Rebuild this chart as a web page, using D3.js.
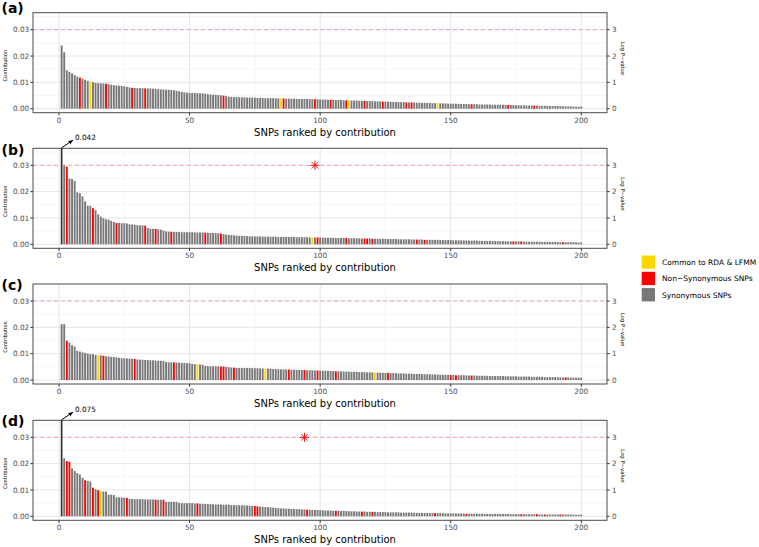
<!DOCTYPE html>
<html>
<head>
<meta charset="utf-8">
<script src="https://cdn.jsdelivr.net/npm/d3@7"></script>
<style>
body { margin: 0; background: #fff; }
svg text { font-family: "DejaVu Sans", sans-serif; }
</style>
</head>
<body>
<svg id="chart" width="759" height="547"></svg>
<script>
// contributions in units of 1e-4, rank 1..200
const contribA = [
  240,214,146,140,134,128,122,118,114,110, 106,103,101,98,97,97,96,95,93,91,
  89,88,87,86,85,83,81,79,79,78, 78,78,77,77,77,76,75,74,73,73,
  72,72,71,70,68,66,64,62,61,60, 60,59,59,58,58,57,55,54,53,53,
  52,51,50,48,46,45,44,44,43,43, 43,42,42,42,42,41,41,41,40,40,
  40,40,39,39,39,39,38,38,38,38, 37,37,37,37,37,36,36,36,36,35,
  35,35,34,34,34,33,33,33,32,32, 32,31,31,31,30,30,30,29,29,29,
  28,28,28,27,27,27,26,26,26,25, 25,25,24,24,24,23,23,23,22,22,
  22,22,21,21,21,20,20,20,19,19, 19,19,18,18,18,18,17,17,17,17,
  16,16,16,16,16,15,15,15,15,15, 14,14,14,14,13,13,13,13,12,12,
  12,12,12,11,11,11,11,10,10,10, 10,10,9,9,9,9,8,8,8,8
];
const contribB = [
  420,302,295,249,248,241,197,194,182,163, 147,146,137,130,114,105,99,95,94,89,
  85,81,81,80,80,79,76,75,74,73, 72,72,71,62,60,59,58,57,56,52,
  49,48,48,47,47,47,46,46,46,46, 46,45,45,45,45,44,44,43,43,42,
  42,41,39,37,36,35,34,33,32,32, 31,31,31,30,30,30,30,29,29,29,
  29,29,29,28,28,28,28,28,28,28, 27,27,27,27,27,26,26,26,26,26,
  25,25,25,25,25,24,24,24,24,24, 23,23,23,23,22,22,22,22,22,21,
  21,21,21,21,20,20,20,20,20,19, 19,19,19,19,18,18,18,18,18,17,
  17,17,17,17,17,16,16,16,16,16, 15,15,15,15,15,14,14,14,14,14,
  13,13,13,13,13,12,12,12,12,12, 12,11,11,11,11,11,11,10,10,10,
  10,10,10,10,9,9,9,9,9,9, 9,8,8,8,8,8,8,8,7,7
];
const contribC = [
  212,212,149,142,132,127,111,108,105,103, 100,98,98,95,94,94,92,90,89,88,
  87,86,84,83,82,82,81,81,80,78, 77,77,76,76,75,75,74,73,73,72,
  68,67,67,67,66,66,65,65,64,64, 61,60,60,59,58,53,53,52,52,52,
  52,51,51,50,49,47,47,46,46,46, 46,46,46,45,45,45,44,44,43,43,
  43,42,42,41,41,40,40,40,39,39, 39,38,38,38,37,37,37,36,36,36,
  35,35,35,34,34,33,33,33,32,32, 32,31,31,31,30,30,30,29,29,29,
  28,28,28,27,27,27,26,26,26,25, 25,25,24,24,24,23,23,23,22,22,
  22,22,21,21,21,20,20,20,19,19, 19,18,18,18,18,17,17,17,17,16,
  16,16,16,16,15,15,15,15,15,15, 14,14,14,14,14,13,13,13,13,13,
  12,12,12,12,12,11,11,11,11,11, 10,10,10,10,10,9,9,9,9,9
];
const contribD = [
  750,220,210,207,182,173,164,159,146,137, 134,132,109,103,99,97,94,94,82,82,
  81,72,72,71,71,70,66,66,65,65, 65,65,64,64,64,64,63,63,63,63,
  55,55,55,55,55,51,50,50,50,50, 50,49,49,48,47,47,46,46,46,45,
  45,45,44,44,44,43,43,42,42,42, 41,41,40,40,39,38,37,36,35,35,
  34,33,32,31,30,30,29,29,28,28, 27,27,26,26,25,25,24,24,24,23,
  23,22,22,22,21,21,21,20,20,20, 19,19,19,18,18,18,18,17,17,17,
  17,16,16,16,16,15,15,15,15,15, 14,14,14,14,14,13,13,13,13,13,
  13,12,12,12,12,12,12,11,11,11, 11,11,11,11,10,10,10,10,10,10,
  10,10,9,9,9,9,9,9,9,9, 9,9,8,8,8,8,8,8,8,8,
  8,8,8,7,7,7,7,7,7,7, 7,7,7,7,7,7,6,6,6,6
];

// ranks of non-synonymous SNPs and SNPs common to RDA & LFMM
const nonSynA = [8,18,28,33,63,86,98,104,110,117,124,133,135,158,172,182];
const commonA = [12,85,111,145];
const nonSynB = [3,13,22,33,37,43,56,62,99,110,117,118,120,137,140,174,177,193];
const commonB = [97];
const nonSynC = [3,17,29,44,62,63,67,88,94,99,106,126,150,152,158,194];
const commonC = [15,53,79,121];
const nonSynD = [3,4,10,13,15,26,37,40,53,75,76,95,106,116,120,144,156,177,183,186,192];
const commonD = [16];

// LFMM hits shown as asterisks (rank, log P-value); null when none
const starB = {rank: 98, logp: 3};
const starD = {rank: 94, logp: 3};
// values of the top bar that runs off the panel
const offScaleB = 0.042;
const offScaleD = 0.075;

const panelLabels = ["(a)", "(b)", "(c)", "(d)"];
const xTicks = [0, 50, 100, 150, 200];
const xMinor = [25, 75, 125, 175];
const yTicks = [0, 0.01, 0.02, 0.03];
const yMinor = [0.005, 0.015, 0.025, 0.035];
const pTicks = [0, 1, 2, 3];
const threshold = 0.03;
const legendLabels = ["Common to RDA & LFMM", "Non\u2212Synonymous SNPs", "Synonymous SNPs"];
const legendColors = ["#ffd700", "#ff0000", "#787878"];

const panels = [
    {values: contribA, nonSyn: nonSynA, common: commonA, star: null, top: null},
    {values: contribB, nonSyn: nonSynB, common: commonB, star: starB, top: offScaleB},
    {values: contribC, nonSyn: nonSynC, common: commonC, star: null, top: null},
    {values: contribD, nonSyn: nonSynD, common: commonD, star: starD, top: offScaleD}
];

const panelTops = [12.7, 148.3, 284, 420.3];
const labelBaselines = [13.3, 155, 290, 425.5];
const panelLeft = 33, panelRight = 607, panelH = 100;

const svg = d3.select("#chart");
const x = d3.scaleLinear().domain([0, 200]).range([59, 581.3]);
const barW = (x(1) - x(0)) * 0.72;

svg.append("defs").append("marker")
    .attr("id", "arrow")
    .attr("viewBox", "0 0 10 10")
    .attr("refX", 9).attr("refY", 5)
    .attr("markerWidth", 5).attr("markerHeight", 5)
    .attr("orient", "auto")
    .append("path")
    .attr("d", "M0,1 L10,5 L0,9 Z")
    .attr("fill", "#000");

panels.forEach((p, i) => drawPanel(p, i));
drawLegend();

function barColor(p, rank) {
    if (p.common.includes(rank)) return legendColors[0];
    if (p.nonSyn.includes(rank)) return legendColors[1];
    return legendColors[2];
}

function drawPanel(p, i) {
    const top = panelTops[i];
    const bottom = top + panelH;
    const y = d3.scaleLinear().domain([0, 0.03]).range([top + 96, top + 17]);
    const yP = d3.scaleLinear().domain([0, 3]).range([top + 96, top + 17]);
    const g = svg.append("g");

    g.append("clipPath").attr("id", "clip" + i)
        .append("rect")
        .attr("x", panelLeft).attr("y", top)
        .attr("width", panelRight - panelLeft).attr("height", panelH);

    // grid
    g.selectAll(".ymin").data(yMinor).join("line")
        .attr("x1", panelLeft).attr("x2", panelRight)
        .attr("y1", d => y(d)).attr("y2", d => y(d))
        .attr("stroke", "#f0f0f0").attr("stroke-width", 0.6);
    g.selectAll(".xmin").data(xMinor).join("line")
        .attr("y1", top).attr("y2", bottom)
        .attr("x1", d => x(d)).attr("x2", d => x(d))
        .attr("stroke", "#f0f0f0").attr("stroke-width", 0.6);
    g.selectAll(".ymaj").data(yTicks).join("line")
        .attr("x1", panelLeft).attr("x2", panelRight)
        .attr("y1", d => y(d)).attr("y2", d => y(d))
        .attr("stroke", "#e6e6e6").attr("stroke-width", 1);
    g.selectAll(".xmaj").data(xTicks).join("line")
        .attr("y1", top).attr("y2", bottom)
        .attr("x1", d => x(d)).attr("x2", d => x(d))
        .attr("stroke", "#e6e6e6").attr("stroke-width", 1);

    // bars
    const bars = g.append("g").attr("clip-path", `url(#clip${i})`);
    bars.selectAll("rect").data(p.values).join("rect")
        .attr("x", (d, k) => x(k + 1) - barW / 2)
        .attr("width", barW)
        .attr("y", d => y(d * 1e-4))
        .attr("height", d => y(0) - y(d * 1e-4))
        .attr("fill", (d, k) => barColor(p, k + 1));

    // threshold line
    g.append("line")
        .attr("x1", panelLeft).attr("x2", panelRight)
        .attr("y1", y(threshold)).attr("y2", y(threshold))
        .attr("stroke", "#f2a7a7").attr("stroke-width", 1)
        .attr("stroke-dasharray", "4,3");

    if (p.star) {
        const s = 4.5, s2 = 3.2;
        g.append("path")
            .attr("transform", `translate(${x(p.star.rank)},${yP(p.star.logp)})`)
            .attr("d", `M${-s},0L${s},0M0,${-s}L0,${s}M${-s2},${-s2}L${s2},${s2}M${-s2},${s2}L${s2},${-s2}`)
            .attr("stroke", "#ee1111").attr("stroke-width", 1).attr("fill", "none");
    }

    // border
    g.append("rect")
        .attr("x", panelLeft).attr("y", top)
        .attr("width", panelRight - panelLeft).attr("height", panelH)
        .attr("fill", "none").attr("stroke", "#4d4d4d").attr("stroke-width", 1);

    if (p.top) {
        const x1 = x(1);
        g.append("line")
            .attr("x1", x1).attr("x2", x1)
            .attr("y1", y(0)).attr("y2", top - 0.5)
            .attr("stroke", "#333").attr("stroke-width", 1.2);
        g.append("line")
            .attr("x1", x1).attr("y1", top - 0.5)
            .attr("x2", x(5.3)).attr("y2", top - 8)
            .attr("stroke", "#000").attr("stroke-width", 1)
            .attr("marker-end", "url(#arrow)");
        g.append("text")
            .attr("x", x(6.1)).attr("y", top - 11)
            .attr("dy", "0.35em")
            .attr("font-size", 7.3).attr("fill", "#000")
            .text(p.top.toFixed(3));
    }

    // axes
    const axX = g.append("g");
    axX.selectAll("line").data(xTicks).join("line")
        .attr("x1", d => x(d)).attr("x2", d => x(d))
        .attr("y1", bottom).attr("y2", bottom + 2.7)
        .attr("stroke", "#333");
    axX.selectAll("text").data(xTicks).join("text")
        .attr("x", d => x(d)).attr("y", bottom + 9.8)
        .attr("text-anchor", "middle")
        .attr("font-size", 7.3).attr("fill", "#4d4d4d")
        .text(d => d);

    const axY = g.append("g");
    axY.selectAll("line").data(yTicks).join("line")
        .attr("x1", panelLeft - 2.7).attr("x2", panelLeft)
        .attr("y1", d => y(d)).attr("y2", d => y(d))
        .attr("stroke", "#333");
    axY.selectAll("text").data(yTicks).join("text")
        .attr("x", panelLeft - 3.8).attr("y", d => y(d))
        .attr("dy", "0.35em")
        .attr("text-anchor", "end")
        .attr("font-size", 7.3).attr("fill", "#4d4d4d")
        .text(d => d3.format(".2f")(d));

    const axP = g.append("g");
    axP.selectAll("line").data(pTicks).join("line")
        .attr("x1", panelRight).attr("x2", panelRight + 2.7)
        .attr("y1", d => yP(d)).attr("y2", d => yP(d))
        .attr("stroke", "#333");
    axP.selectAll("text").data(pTicks).join("text")
        .attr("x", panelRight + 5).attr("y", d => yP(d))
        .attr("dy", "0.35em")
        .attr("font-size", 7.3).attr("fill", "#4d4d4d")
        .text(d => d);

    // titles
    g.append("text")
        .attr("x", 325).attr("y", top + 122.8)
        .attr("text-anchor", "middle")
        .attr("font-size", 10).attr("fill", "#000")
        .text("SNPs ranked by contribution");
    g.append("text")
        .attr("transform", `translate(5.5,${top + 53}) rotate(-90)`)
        .attr("text-anchor", "middle").attr("dy", "0.35em")
        .attr("font-size", 5.1).attr("fill", "#000")
        .text("Contribution");
    g.append("text")
        .attr("transform", `translate(623,${top + 45.6}) rotate(90)`)
        .attr("text-anchor", "middle").attr("dy", "0.35em")
        .attr("font-size", 5.3).attr("fill", "#000")
        .text("Log P\u2212value");

    g.append("text")
        .attr("x", 1.5).attr("y", labelBaselines[i])
        .attr("font-size", 14).attr("font-weight", "bold")
        .attr("fill", "#000")
        .text(panelLabels[i]);
}

function drawLegend() {
    const lg = svg.append("g").attr("transform", "translate(641.7,255.5)");
    const item = lg.selectAll("g").data(legendLabels).join("g")
        .attr("transform", (d, k) => `translate(0,${k * 16.3})`);
    item.append("rect")
        .attr("width", 13.3).attr("height", 13.3)
        .attr("fill", (d, k) => legendColors[k]);
    item.append("text")
        .attr("x", 20.3).attr("y", 6.8).attr("dy", "0.35em")
        .attr("font-size", 7.5).attr("fill", "#000")
        .text(d => d);
}
</script>
</body>
</html>
